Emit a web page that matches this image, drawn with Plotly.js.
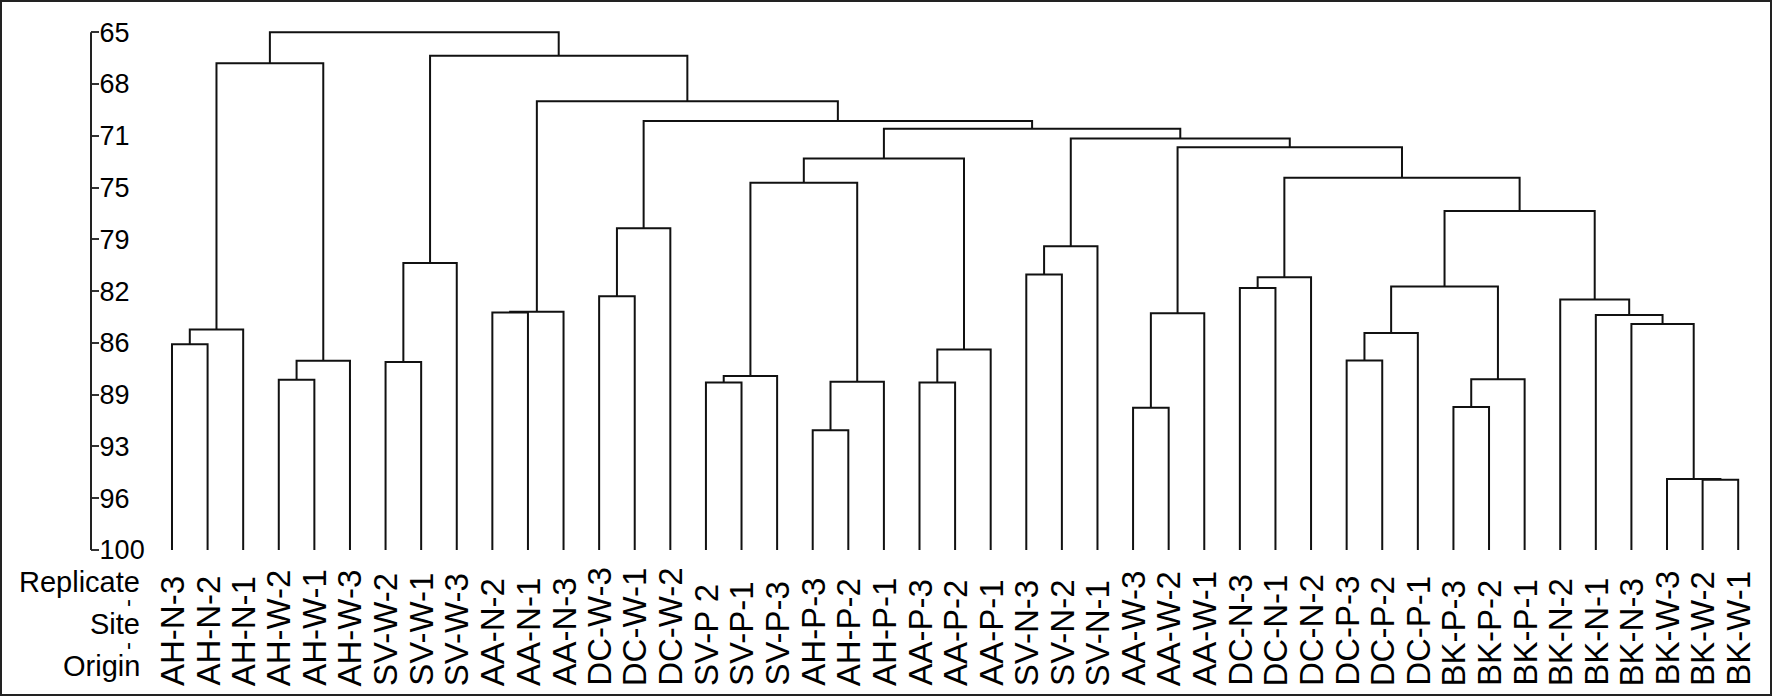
<!DOCTYPE html>
<html>
<head>
<meta charset="utf-8">
<script src="https://cdn.plot.ly/plotly-3.0.1.min.js"></script>
<style>
  html, body { margin: 0; padding: 0; background: #fff; }
  #wrap { position: relative; width: 1772px; height: 696px; }
  #chart { position: absolute; left: 0; top: 0; width: 1772px; height: 696px; }
  #frame { position: absolute; left: 0; top: 0; width: 1772px; height: 696px; box-sizing: border-box; border: 2px solid #222; pointer-events: none; }
</style>
</head>
<body>
<div id="wrap"><div id="chart"></div><div id="frame"></div></div>
<script>
// Leaves, left to right
const leafLabels = ['AH-N-3','AH-N-2','AH-N-1','AH-W-2','AH-W-1','AH-W-3','SV-W-2','SV-W-1','SV-W-3',
  'AA-N-2','AA-N-1','AA-N-3','DC-W-3','DC-W-1','DC-W-2','SV-P 2','SV-P-1','SV-P-3',
  'AH-P-3','AH-P-2','AH-P-1','AA-P-3','AA-P-2','AA-P-1','SV-N-3','SV-N-2','SV-N-1',
  'AA-W-3','AA-W-2','AA-W-1','DC-N-3','DC-N-1','DC-N-2','DC-P-3','DC-P-2','DC-P-1',
  'BK-P-3','BK-P-2','BK-P-1','BK-N-2','BK-N-1','BK-N-3','BK-W-3','BK-W-2','BK-W-1'];

// Linkage: merge k creates cluster id 45+k from clusters mergeA[k] and mergeB[k]
const mergeA = [0,45,3,47,46,6,50,9,52,12,54,15,56,18,58,57,21,61,60,24,64,27,66,30,68,33,70,36,72,71,43,42,41,40,39,74,69,67,65,63,55,53,51,49];
const mergeB = [1,2,4,5,48,7,8,10,11,13,14,16,17,19,20,59,22,23,62,25,26,28,29,31,32,34,35,37,38,73,44,75,76,77,78,79,80,81,82,83,84,85,86,87];
const mergeHeight = [86.09,85.1,88.5,87.2,67.1,87.3,80.6,83.95,83.9,82.85,78.26,88.68,88.23,91.9,88.63,75.17,88.68,86.45,73.53,81.38,79.47,90.39,84.0,82.29,81.56,87.19,85.33,90.34,88.45,82.19,95.25,95.2,84.72,84.11,83.07,77.09,74.83,72.77,72.18,71.52,71.0,69.66,66.6,65.0];

// Similarity axis
const tickVals = [65,68.5,72,75.5,79,82.5,86,89.5,93,96.5,100];
const tickText = ['65','68','71','75','79','82','86','89','93','96','100'];
const axisMin = 65, axisMax = 100;
const leafBase = 100;

// Row captions
const rowCaptions = ['Replicate','Site','Origin'];

const FONT = 'Liberation Sans, Arial, Helvetica, sans-serif';
const nLeaf = leafLabels.length;
const px = [], ph = [];
for (let i = 0; i < nLeaf; i++) { px.push(i); ph.push(leafBase); }
const xs = [], ys = [];
for (let k = 0; k < mergeA.length; k++) {
  const a = mergeA[k], b = mergeB[k], h = mergeHeight[k];
  xs.push(px[a], px[a], px[b], px[b], null);
  ys.push(ph[a], h, h, ph[b], null);
  px.push((px[a] + px[b]) / 2);
  ph.push(h);
}

const trace = {
  type: 'scatter', mode: 'lines', x: xs, y: ys,
  line: { color: '#111', width: 2 }, hoverinfo: 'skip', showlegend: false
};

const W = 1772, H = 696;
const mL = 91, mR = 16, mT = 10, mB = 109;
const plotH = H - mT - mB;
const pY = v => (H - mB - v) / plotH;          // pixel row -> paper y
const pX = v => (v - mL) / (W - mL - mR);      // pixel col -> paper x

const annotations = [];
leafLabels.forEach((lab, i) => {
  annotations.push({
    text: lab, x: i, xref: 'x', y: pY(688), yref: 'paper',
    xanchor: 'center', yanchor: 'bottom', textangle: -90, showarrow: false,
    font: { family: FONT, size: 33, color: '#000' }
  });
});
const capY = [582, 624, 666];
rowCaptions.forEach((c, i) => {
  annotations.push({
    text: c, x: pX(142), xref: 'paper', y: pY(capY[i]), yref: 'paper',
    xanchor: 'right', yanchor: 'middle', showarrow: false,
    font: { family: FONT, size: 29, color: '#000' }
  });
});
[603, 646].forEach(yy => {
  annotations.push({
    text: '-', x: pX(126), xref: 'paper', y: pY(yy), yref: 'paper',
    xanchor: 'center', yanchor: 'middle', textangle: -90, showarrow: false,
    font: { family: FONT, size: 24, color: '#000' }
  });
});

const layout = {
  width: W, height: H,
  margin: { l: mL, r: mR, t: mT, b: mB, pad: 0 },
  paper_bgcolor: '#fff', plot_bgcolor: '#fff',
  showlegend: false,
  xaxis: {
    range: [-(172 - mL) / 35.6, nLeaf - 1 + 0.5],
    visible: false, showgrid: false, zeroline: false, fixedrange: true
  },
  yaxis: {
    range: [102.5, 63.5], autorange: false,
    tickvals: tickVals, ticktext: tickText,
    ticks: 'inside', ticklen: 8, tickwidth: 2, tickcolor: '#333',
    ticklabelposition: 'inside', ticklabelstandoff: 3,
    showline: false,
    showgrid: false, zeroline: false,
    tickfont: { family: FONT, size: 27, color: '#000' }
  },
  shapes: [{
    type: 'line', xref: 'paper', yref: 'y', x0: 0, x1: 0, y0: axisMin, y1: axisMax,
    line: { color: '#222', width: 2 }
  }],
  annotations: annotations
};

Plotly.newPlot('chart', [trace], layout, { staticPlot: true, displayModeBar: false });
</script>
</body>
</html>
